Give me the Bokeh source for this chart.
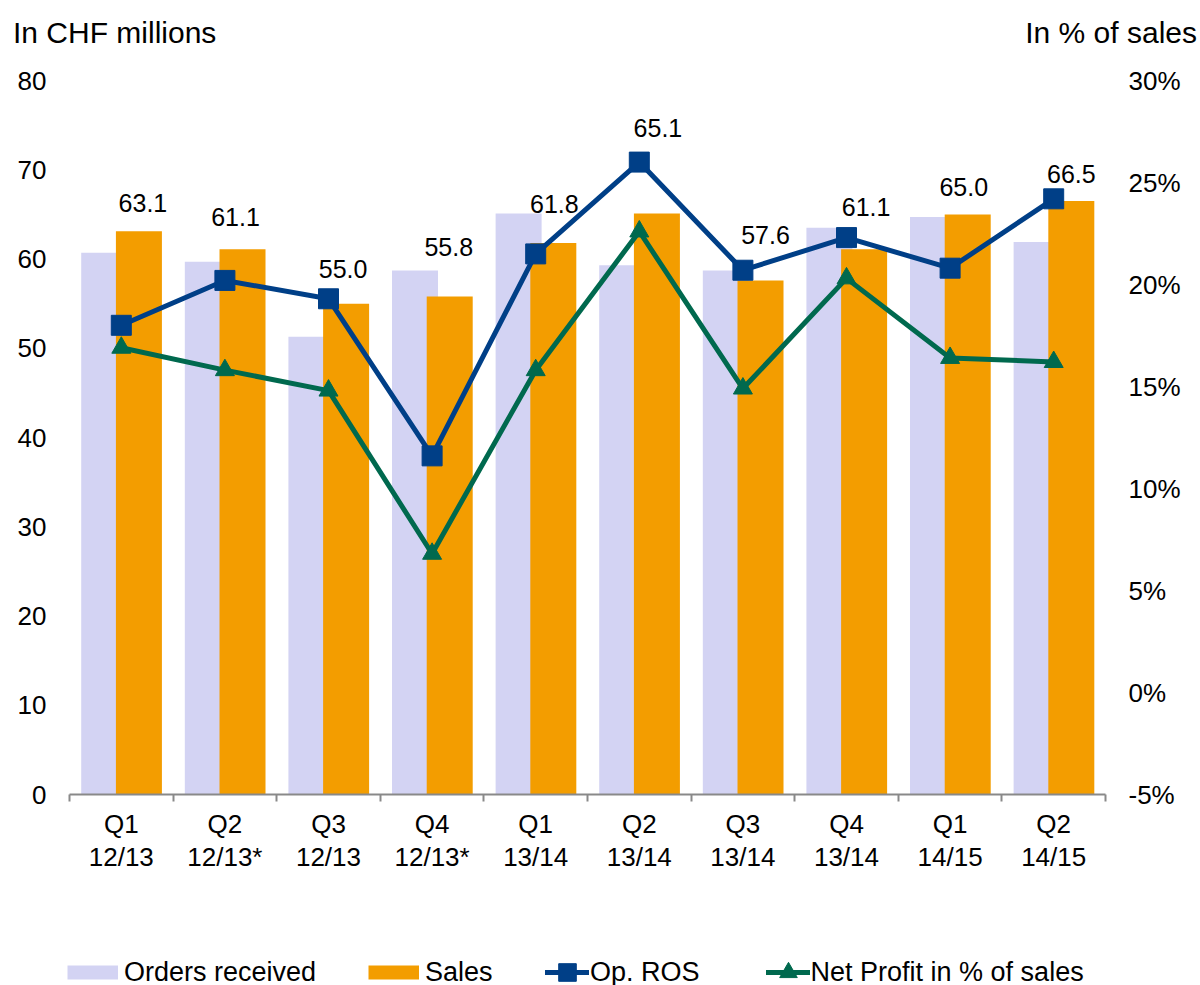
import math
from bokeh.plotting import figure
from bokeh.layouts import column
from bokeh.models import (Range1d, LinearAxis, FixedTicker, PrintfTickFormatter,
                          ColumnDataSource, Legend, LegendItem, Label)
from bokeh.transform import dodge
from bokeh.core.properties import value
from bokeh.embed import file_html
from bokeh.resources import INLINE

# ---------------- data ----------------
quarters = ["Q1\n12/13", "Q2\n12/13*", "Q3\n12/13", "Q4\n12/13*", "Q1\n13/14",
            "Q2\n13/14", "Q3\n13/14", "Q4\n13/14", "Q1\n14/15", "Q2\n14/15"]
orders_received = [60.7, 59.7, 51.3, 58.7, 65.1, 59.3, 58.7, 63.5, 64.7, 61.9]
sales = [63.1, 61.1, 55.0, 55.8, 61.8, 65.1, 57.6, 61.1, 65.0, 66.5]
op_ros = [18.0, 20.2, 19.3, 11.6, 21.5, 26.0, 20.7, 22.3, 20.8, 24.2]
net_profit = [16.9, 15.8, 14.8, 6.8, 15.8, 22.6, 14.9, 20.3, 16.4, 16.2]
left_ticks = [0, 10, 20, 30, 40, 50, 60, 70, 80]
right_ticks = [-5, 0, 5, 10, 15, 20, 25, 30]
series_names = ["Orders received", "Sales", "Op. ROS", "Net Profit in % of sales"]
left_title = "In CHF millions"
right_title = "In % of sales"

# ---------------- styles ----------------
FONT = "Liberation Sans"
C_ORDERS = "#D3D3F3"
C_SALES = "#F39D00"
C_ROS = "#003F87"
C_NET = "#00694E"
C_AXIS = "#898989"
label_dx = [4, -7, -3, -1, 1, 1, 5, 2, -4, 0]                     # px
label_dy = [-28, -32, -35, -49, -39, -85, -45, -42, -27, -27]     # px (above bar top)

W = 1200
H_HEAD, H_MAIN, H_FOOT = 48, 887, 50

n = len(quarters)
centers = [i + 0.5 for i in range(n)]   # category slots on a 0..n axis

src = ColumnDataSource(dict(
    x=centers, orders=orders_received, sales=sales, ros=op_ros, net=net_profit,
    lbl=["%.1f" % v for v in sales], dx=label_dx, dy=label_dy,
))


def bare(fig, free=False):
    fig.outline_line_color = None
    fig.grid.visible = False
    fig.background_fill_color = "white"
    fig.border_fill_color = "white"
    if free and "frame_align" in fig.properties():
        fig.frame_align = False
    return fig


# ---------------- header (axis titles) ----------------
head = bare(figure(width=W, height=H_HEAD, x_range=Range1d(0, W), y_range=Range1d(0, H_HEAD),
                   x_axis_location=None, y_axis_location=None,
                   output_backend="svg", toolbar_location=None, min_border=0), free=True)
head.add_layout(Label(x=12.5, y=16.5, text=left_title, text_font=FONT, text_font_size="30px",
                      text_color="black", text_baseline="alphabetic", text_align="left"))
head.add_layout(Label(x=1196.5, y=16.5, text=right_title, text_font=FONT, text_font_size="30px",
                      text_color="black", text_baseline="alphabetic", text_align="right"))

# ---------------- main chart ----------------
p = bare(figure(width=W, height=H_MAIN,
                x_range=Range1d(0, n), y_range=Range1d(0, 80),
                output_backend="svg", toolbar_location=None,
                min_border_left=69, min_border_right=95, min_border_top=32,
                min_border_bottom=141))
p.extra_y_ranges = {"pct": Range1d(-5, 30)}

ya = p.yaxis[0]
ya.ticker = FixedTicker(ticks=left_ticks)
ra = LinearAxis(y_range_name="pct", ticker=FixedTicker(ticks=right_ticks),
                formatter=PrintfTickFormatter(format="%d%%"))
p.add_layout(ra, "right")
for ax in (ya, ra):
    ax.axis_line_color = None
    ax.major_tick_line_color = None
    ax.minor_tick_line_color = None
    ax.major_tick_out = 0
    ax.major_tick_in = 0
    ax.minor_tick_out = 0
    ax.major_label_standoff = 23
    ax.major_label_text_font = FONT
    ax.major_label_text_font_size = "26px"
    ax.major_label_text_color = "black"

# boundary tick marks (nearest the frame)
ta = p.xaxis[0]
ta.ticker = FixedTicker(ticks=list(range(n + 1)))
ta.axis_line_color = C_AXIS
ta.axis_line_width = 2
ta.major_tick_line_color = C_AXIS
ta.major_tick_line_width = 2
ta.major_tick_out = 7
ta.major_tick_in = 0
ta.minor_tick_line_color = None
ta.minor_tick_out = 0
ta.major_label_overrides = {i: "" for i in range(n + 1)}
ta.major_label_text_font_size = "1px"
ta.major_label_standoff = 0

# category labels at slot centres
ca = LinearAxis(ticker=FixedTicker(ticks=centers))
ca.major_label_overrides = {c: q for c, q in zip(centers, quarters)}
ca.axis_line_color = None
ca.major_tick_line_color = None
ca.minor_tick_line_color = None
ca.major_tick_out = 0
ca.minor_tick_out = 0
ca.major_label_standoff = 7
ca.major_label_text_font = FONT
ca.major_label_text_font_size = "26px"
ca.major_label_text_line_height = 1.1
ca.major_label_text_color = "black"
ca.major_label_text_align = "center"
p.add_layout(ca, "below")

# bars
p.vbar(x=dodge("x", -0.165), top="orders", width=0.444, bottom=0, source=src,
       fill_color=C_ORDERS, line_color=None)
p.vbar(x=dodge("x", 0.17), top="sales", width=0.444, bottom=0, source=src,
       fill_color=C_SALES, line_color=None)

# value labels
p.text(x=dodge("x", 0.17), y="sales", text="lbl", source=src,
       x_offset="dx", y_offset="dy",
       text_font=value(FONT), text_font_size=value("25px"), text_color="black",
       text_align="center", text_baseline="middle")

# lines
p.line(x="x", y="ros", source=src, y_range_name="pct",
       line_color=C_ROS, line_width=5, line_join="round")
p.scatter(x="x", y="ros", source=src, y_range_name="pct", marker="square",
          size=20, fill_color=C_ROS, line_color=C_ROS)
p.line(x="x", y="net", source=src, y_range_name="pct",
       line_color=C_NET, line_width=5, line_join="round")
p.scatter(x="x", y="net", source=src, y_range_name="pct", marker="triangle",
          size=19, fill_color=C_NET, line_color=C_NET)

# ---------------- footer (legend) ----------------
foot = bare(figure(width=W, height=H_FOOT, x_range=Range1d(0, W), y_range=Range1d(0, H_FOOT),
                   x_axis_location=None, y_axis_location=None,
                   output_backend="svg", toolbar_location=None, min_border=0), free=True)
key_src = ColumnDataSource(dict(x=[math.nan], y=[math.nan]))   # legend keys only
k_orders = foot.line("x", "y", source=key_src, line_color=C_ORDERS, line_width=14, line_cap="butt")
k_sales = foot.line("x", "y", source=key_src, line_color=C_SALES, line_width=14, line_cap="butt")
k_ros_l = foot.line("x", "y", source=key_src, line_color=C_ROS, line_width=5, line_cap="round")
k_ros_m = foot.scatter("x", "y", source=key_src, marker="square", size=18,
                       fill_color=C_ROS, line_color=C_ROS)
k_net_l = foot.line("x", "y", source=key_src, line_color=C_NET, line_width=5, line_cap="round")
k_net_m = foot.scatter("x", "y", source=key_src, marker="triangle", size=18,
                       fill_color=C_NET, line_color=C_NET)

common = dict(orientation="horizontal", padding=0, margin=0, border_line_color=None,
              background_fill_alpha=0, label_text_font=FONT, label_text_font_size="27px",
              label_text_color="black", label_height=44, glyph_height=44)
leg_a = Legend(items=[LegendItem(label=series_names[0], renderers=[k_orders]),
                      LegendItem(label=series_names[1], renderers=[k_sales])],
               location=(67, -9), glyph_width=51, label_standoff=6, spacing=52, **common)
leg_b = Legend(items=[LegendItem(label=series_names[2], renderers=[k_ros_l, k_ros_m]),
                      LegendItem(label=series_names[3], renderers=[k_net_l, k_net_m])],
               location=(545, -9), glyph_width=44, label_standoff=1, spacing=66, **common)
foot.add_layout(leg_a, "center")
foot.add_layout(leg_b, "center")

layout = column(head, p, foot, spacing=0)
open("out.html", "w").write(file_html(layout, INLINE))
